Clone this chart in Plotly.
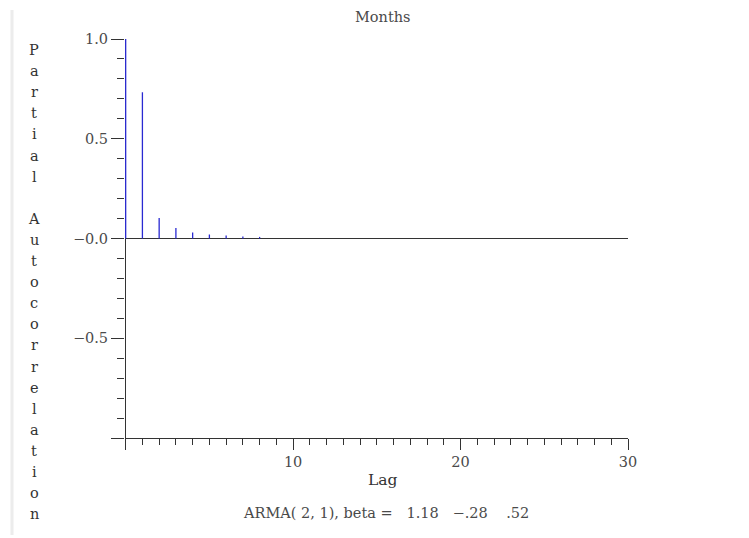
import plotly.graph_objects as go

# ---- data ----
lags = [0, 1, 2, 3, 4, 5, 6, 7, 8]
pacf = [1.0, 0.733, 0.103, 0.053, 0.030, 0.020, 0.015, 0.010, 0.008]

x_tickvals = [0, 10, 20, 30]
x_ticktext = ["", "10", "20", "30"]
y_tickvals = [-1.0, -0.5, 0.0, 0.5, 1.0]
y_ticktext = ["", "\u22120.5", "\u22120.0", "0.5", "1.0"]

title_text = "Months"
x_title = "Lag"
y_title = "Partial Autocorrelation"
footnote = "ARMA( 2, 1), beta =   1.18   \u2212.28    .52"

# ---- geometry (pixels) ----
W, H = 749, 538
L, R, T, B = 125, 121, 39, 100
plot_w = W - L - R
plot_h = H - T - B

def px2paper_x(px):
    return (px - L) / plot_w

def px2paper_y(py):
    return (H - B - py) / plot_h

FONT = "DejaVu Serif"
FS = 14.5
TXT = "#4a4a4a"
AX = "#333333"

# stick segments built from the data
xs, ys = [], []
for lag, v in zip(lags, pacf):
    xs += [lag, lag, None]
    ys += [0, v, None]

fig = go.Figure()
fig.add_trace(go.Scatter(x=xs, y=ys, mode="lines",
                         line=dict(color="#2a2ad2", width=1.3),
                         hoverinfo="skip", showlegend=False))

fig.update_layout(
    width=W, height=H,
    margin=dict(l=L, r=R, t=T, b=B, pad=0),
    paper_bgcolor="white", plot_bgcolor="white",
    showlegend=False,
    font=dict(family=FONT, size=FS, color=TXT),
    xaxis=dict(range=[-0.04, 30], tickmode="array", tickvals=x_tickvals, ticktext=x_ticktext,
               ticks="outside", ticklen=11, tickwidth=1, tickcolor=AX,
               showline=True, linecolor=AX, linewidth=1, mirror=False,
               showgrid=False, zeroline=True, zerolinecolor=AX, zerolinewidth=1,
               minor=dict(tickmode="linear", tick0=0, dtick=1, ticks="outside",
                          ticklen=6, tickwidth=1, tickcolor=AX, showgrid=False),
               tickfont=dict(family=FONT, size=FS, color=TXT),
               layer="below traces"),
    yaxis=dict(range=[-1, 1], tickmode="array", tickvals=y_tickvals, ticktext=y_ticktext,
               ticks="outside", ticklen=13, tickwidth=1, tickcolor=AX,
               showline=False,
               showgrid=False, zeroline=True, zerolinecolor=AX, zerolinewidth=1,
               minor=dict(tickmode="linear", tick0=0, dtick=0.1, ticks="outside",
                          ticklen=7, tickwidth=1, tickcolor=AX, showgrid=False),
               tickfont=dict(family=FONT, size=FS, color=TXT),
               layer="below traces"),
)

ann = []
# top title
ann.append(dict(text=title_text, xref="paper", yref="paper",
                x=px2paper_x(383), y=px2paper_y(17), showarrow=False,
                xanchor="center", yanchor="middle",
                font=dict(family=FONT, size=FS, color=TXT)))
# x title
ann.append(dict(text=x_title, xref="paper", yref="paper",
                x=px2paper_x(383), y=px2paper_y(480), showarrow=False,
                xanchor="center", yanchor="middle",
                font=dict(family=FONT, size=FS + 1, color="#333333")))
# footnote
ann.append(dict(text=footnote.replace(" ", "\u00a0"), xref="paper", yref="paper",
                x=px2paper_x(386), y=px2paper_y(513), showarrow=False,
                xanchor="center", yanchor="middle",
                font=dict(family=FONT, size=FS, color=TXT)))
# vertical stacked y title letters
y0, step = 50, 21.1
for i, ch in enumerate(y_title):
    if ch == " ":
        continue
    ann.append(dict(text=ch, xref="paper", yref="paper",
                    x=px2paper_x(34), y=px2paper_y(y0 + i * step), showarrow=False,
                    xanchor="center", yanchor="middle",
                    font=dict(family=FONT, size=FS, color="#333333")))
fig.update_layout(annotations=ann)

# light gray frame line on the left
fig.add_shape(type="line", xref="paper", yref="paper",
              x0=px2paper_x(12), x1=px2paper_x(12),
              y0=px2paper_y(10), y1=px2paper_y(535),
              line=dict(color="#ececec", width=3), layer="below")

fig.write_html("out.html")
